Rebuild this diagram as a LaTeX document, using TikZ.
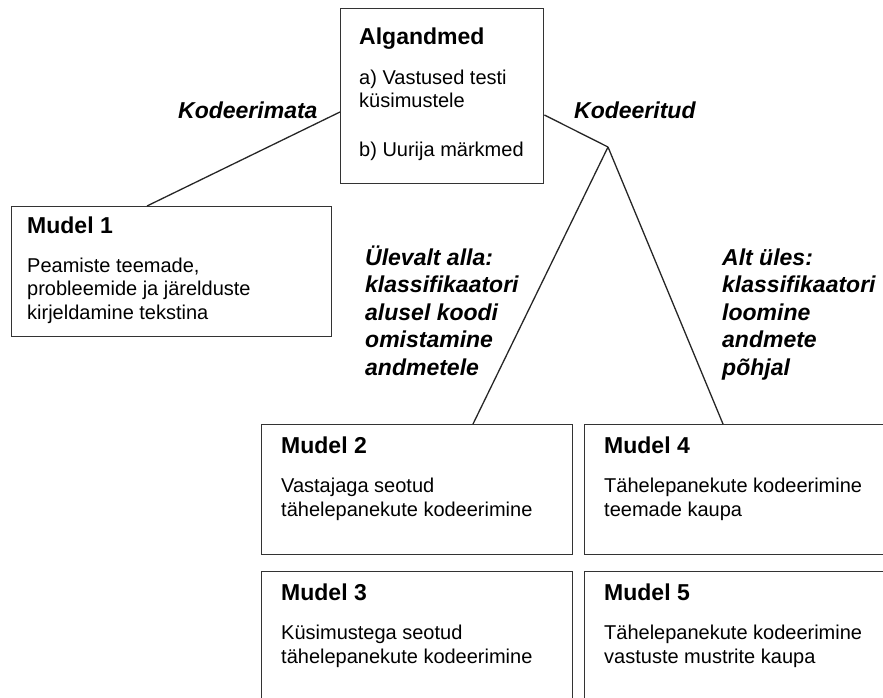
\documentclass[tikz,border=0pt]{standalone}
\usepackage{fontspec}
\setmainfont{Liberation Sans}
\begin{document}
\begin{tikzpicture}[x=1pt,y=-1pt,
  box/.style={draw=black!80, line width=1.4pt, anchor=north west, inner sep=0pt, rectangle},
  conn/.style={draw=black!85, line width=1.3pt},
  titletxt/.style={anchor=base west, inner sep=0pt, font=\fontsize{23}{27}\selectfont\bfseries},
  bodytxt/.style={anchor=base west, inner sep=0pt, align=left, font=\fontsize{20}{23.3}\selectfont},
  lbltxt/.style={anchor=base west, inner sep=0pt, align=left, font=\fontsize{23}{27.5}\selectfont\bfseries\itshape}]
\useasboundingbox (0,0) rectangle (883,698);
\begin{scope}
\clip (0,0) rectangle (883,698);
% boxes
\node[box, minimum width=203pt, minimum height=175pt] (alg) at (340,8) {};
\node[box, minimum width=320pt, minimum height=130pt] (m1) at (11,206) {};
\node[box, minimum width=311pt, minimum height=130pt] (m2) at (261,424) {};
\node[box, minimum width=311pt, minimum height=150pt] (m3) at (261,571) {};
\node[box, minimum width=320pt, minimum height=130pt] (m4) at (584,424) {};
\node[box, minimum width=320pt, minimum height=150pt] (m5) at (584,571) {};
\end{scope}
% texts (multi-line nodes are anchored at the baseline of their last line)
\node[titletxt] (algt) at (359,45) {Algandmed};
\node[bodytxt] (alga) at (359,108) {a) Vastused testi\\küsimustele};
\node[bodytxt] (algb) at (359,157) {b) Uurija märkmed};
\node[titletxt] (m1t) at (27,233) {Mudel 1};
\node[bodytxt] (m1b) at (27,319) {Peamiste teemade,\\probleemide ja järelduste\\kirjeldamine tekstina};
\node[titletxt] (m2t) at (281,453) {Mudel 2};
\node[bodytxt] (m2b) at (281,516) {Vastajaga seotud\\tähelepanekute kodeerimine};
\node[titletxt] (m3t) at (281,600) {Mudel 3};
\node[bodytxt] (m3b) at (281,663) {Küsimustega seotud\\tähelepanekute kodeerimine};
\node[titletxt] (m4t) at (604,453) {Mudel 4};
\node[bodytxt] (m4b) at (604,516) {Tähelepanekute kodeerimine\\teemade kaupa};
\node[titletxt] (m5t) at (604,600) {Mudel 5};
\node[bodytxt] (m5b) at (604,663) {Tähelepanekute kodeerimine\\vastuste mustrite kaupa};
% labels
\node[lbltxt] (lk1) at (178,119) {Kodeerimata};
\node[lbltxt] (lk2) at (574,119) {Kodeeritud};
\node[lbltxt] (lul) at (365,375) {Ülevalt alla:\\klassifikaatori\\alusel koodi\\omistamine\\andmetele};
\node[lbltxt] (lal) at (722,375) {Alt üles:\\klassifikaatori\\loomine\\andmete\\põhjal};
% connectors
\coordinate (algL) at ([yshift=-104pt]alg.north west);
\coordinate (algR) at ([yshift=-107pt]alg.north east);
\coordinate (m1top) at ([xshift=136pt]m1.north west);
\coordinate (m2top) at ([xshift=212pt]m2.north west);
\coordinate (m4top) at ([xshift=139pt]m4.north west);
\coordinate (junc) at (608,147);
\draw[conn] (algL) -- (m1top);
\draw[conn] (algR) -- (junc);
\draw[conn] (junc) -- (m2top);
\draw[conn] (junc) -- (m4top);
\end{tikzpicture}
\end{document}
